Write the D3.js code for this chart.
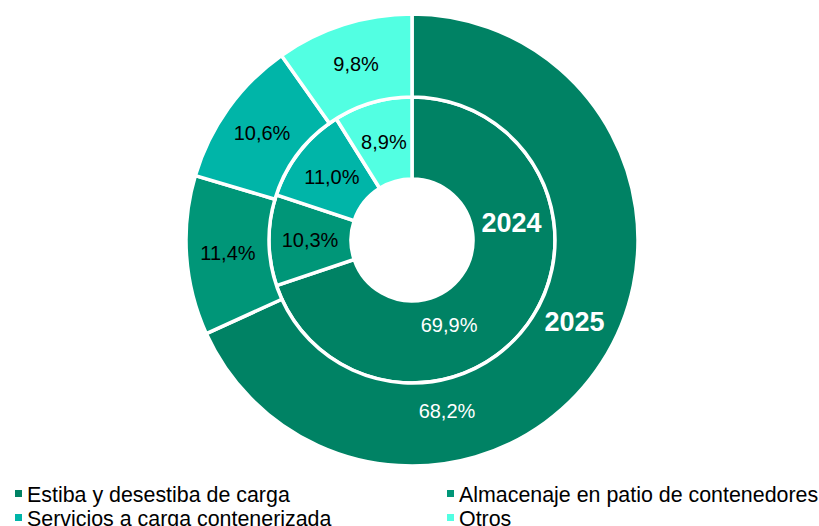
<!DOCTYPE html>
<html>
<head>
<meta charset="utf-8">
<script src="https://cdn.jsdelivr.net/npm/d3@7"></script>
<style>
  body { margin: 0; background: #fff; }
  svg { display: block; font-family: "Liberation Sans", Arial, sans-serif; }
</style>
</head>
<body>
<svg width="819" height="526"></svg>
<script>
"use strict";

// categories, clockwise from 12 o'clock
var categories = ["Estiba y desestiba de carga", "Almacenaje en patio de contenedores",
                  "Servicios a carga contenerizada", "Otros"];
var values2024 = [69.9, 10.3, 11.0, 8.9];   // inner ring
var values2025 = [68.2, 11.4, 10.6, 9.8];   // outer ring
var colors = ["#008264", "#009678", "#00b5a8", "#52ffe2"];

var svg = d3.select("svg");
var cx = 412, cy = 240;
var rHole = 61, rMid = 143, rOut = 226;

var pie = d3.pie().sort(null).value(function(d){ return d; });
var fmt = function(v){ return v.toFixed(1).replace(".", ",") + "%"; };
var color = d3.scaleOrdinal().domain(d3.range(categories.length)).range(colors);

var g = svg.append("g").attr("transform", "translate(" + cx + "," + cy + ")");

// helper: point on polar coords (angle in degrees, from top, clockwise)
function polar(deg, r) {
    var a = deg * Math.PI / 180;
    return [r * Math.sin(a), -r * Math.cos(a)];
}

function ring(values, r0, r1, bigLabel) {
    var arc = d3.arc().innerRadius(r0).outerRadius(r1);
    var arcs = pie(values);
    g.append("g").selectAll("path")
        .data(arcs).enter().append("path")
        .attr("d", arc)
        .attr("fill", function(d, i){ return color(i); })
        .attr("stroke", "#fff")
        .attr("stroke-width", 3.5)
        .attr("stroke-linejoin", "miter");

    g.append("g").selectAll("text")
        .data(arcs).enter().append("text")
        .attr("transform", function(d, i){
            var p = (i === 0) ? polar(bigLabel[0], bigLabel[1]) : arc.centroid(d);
            return "translate(" + p[0] + "," + p[1] + ")";
        })
        .attr("text-anchor", "middle")
        .attr("dy", "0.36em")
        .attr("font-size", 20)
        .attr("fill", function(d, i){ return i === 0 ? "#fff" : "#000"; })
        .text(function(d){ return fmt(d.data); });
}

ring(values2024, rHole, rMid, [156.5, 93]);
ring(values2025, rMid, rOut, [168.4, 174]);

// ring labels
[["2024", 80, 101], ["2025", 116.7, 182]].forEach(function(t){
    var p = polar(t[1], t[2]);
    g.append("text")
        .attr("x", p[0]).attr("y", p[1])
        .attr("text-anchor", "middle")
        .attr("dy", "0.36em")
        .attr("font-size", 27)
        .attr("font-weight", "bold")
        .attr("fill", "#fff")
        .text(t[0]);
});

// legend, two columns
var legend = svg.append("g").selectAll("g")
    .data(categories).enter().append("g")
    .attr("transform", function(d, i){
        var x = (i % 2 === 0) ? 15 : 447;
        var y = 494 + Math.floor(i / 2) * 24;
        return "translate(" + x + "," + y + ")";
    });
legend.append("rect")
    .attr("x", 0).attr("y", -4)
    .attr("width", 7).attr("height", 7)
    .attr("fill", function(d, i){ return color(i); });
legend.append("text")
    .attr("x", 12)
    .attr("dy", "0.35em")
    .attr("font-size", 21.4)
    .attr("fill", "#000")
    .text(function(d){ return d; });
</script>
</body>
</html>
